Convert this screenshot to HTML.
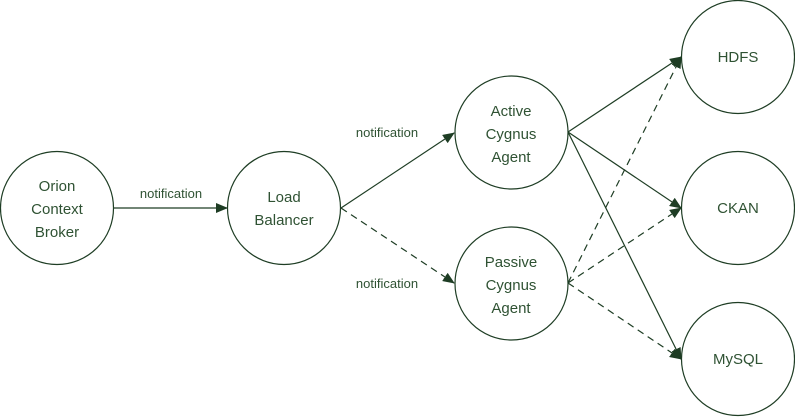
<!DOCTYPE html>
<html><head><style>
body{margin:0;background:#fff;}
svg{display:block;}
text{font-family:"Liberation Sans",sans-serif;fill:#2f5233;}
</style></head><body>
<svg width="795" height="417" viewBox="0 0 795 417">
<defs>
<marker id="a" markerWidth="12" markerHeight="10" refX="11" refY="5" orient="auto" markerUnits="userSpaceOnUse">
<path d="M0,0 L12,5 L0,10 z" fill="#1e3d24"/>
</marker>
</defs>
<g fill="none" stroke="#1e3d24" stroke-width="1.2">
<circle cx="57" cy="208" r="56.5"/>
<circle cx="284" cy="208" r="56.5"/>
<circle cx="511.5" cy="132.5" r="56.5"/>
<circle cx="511.5" cy="283.5" r="56.5"/>
<circle cx="738" cy="57" r="56.5"/>
<circle cx="738" cy="208" r="56.5"/>
<circle cx="738" cy="359" r="56.5"/>
<line x1="114" y1="208" x2="227" y2="208" marker-end="url(#a)"/>
<line x1="341" y1="208" x2="454" y2="133" marker-end="url(#a)"/>
<line x1="341" y1="208" x2="454" y2="283" stroke-dasharray="7,5" marker-end="url(#a)"/>
<line x1="568" y1="132" x2="681" y2="57" marker-end="url(#a)"/>
<line x1="568" y1="132" x2="681" y2="208" marker-end="url(#a)"/>
<line x1="568" y1="132" x2="681" y2="359" marker-end="url(#a)"/>
<line x1="568" y1="283" x2="681" y2="57" stroke-dasharray="7,5" marker-end="url(#a)"/>
<line x1="568" y1="283" x2="681" y2="208" stroke-dasharray="7,5" marker-end="url(#a)"/>
<line x1="568" y1="283" x2="681" y2="359" stroke-dasharray="7,5" marker-end="url(#a)"/>
</g>
<g font-size="15" text-anchor="middle">
<text x="57" y="191">Orion</text><text x="57" y="214">Context</text><text x="57" y="237">Broker</text>
<text x="284" y="202">Load</text><text x="284" y="225">Balancer</text>
<text x="511" y="116">Active</text><text x="511" y="139">Cygnus</text><text x="511" y="162">Agent</text>
<text x="511" y="267">Passive</text><text x="511" y="290">Cygnus</text><text x="511" y="313">Agent</text>
<text x="738" y="62">HDFS</text>
<text x="738" y="213">CKAN</text>
<text x="738" y="364">MySQL</text>
</g>
<g font-size="13" text-anchor="middle">
<text x="171" y="198">notification</text>
<text x="387" y="137">notification</text>
<text x="387" y="288">notification</text>
</g>
</svg>
</body></html>
